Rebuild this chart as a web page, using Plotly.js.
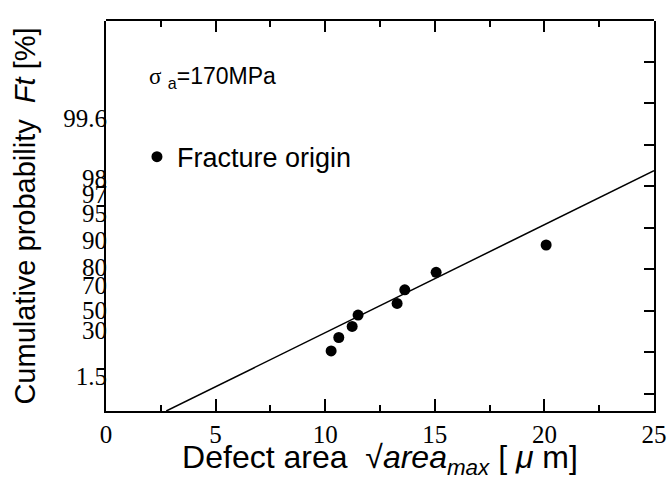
<!DOCTYPE html>
<html>
<head>
<meta charset="utf-8">
<script src="https://cdn.plot.ly/plotly-3.0.1.min.js"></script>
<style>html,body{margin:0;padding:0;background:#fff;}#chart{width:670px;height:480px;}</style>
</head>
<body>
<div id="chart"></div>
<script>
// Defect size sqrt(area_max) [um] of fracture origins
const defectSize = [10.27, 10.62, 11.23, 11.50, 13.28, 13.63, 15.06, 20.08];
// Cumulative probability Ft [%] (plotted on Gumbel paper)
const cumProbPct = [12.3, 23.2, 33.8, 45.0, 55.8, 66.7, 77.7, 88.6];
// Fitted line endpoints (x in um, y in Gumbel reduced variate)
const fitX = [2.75, 25];
const fitReduced = [-2.359, 4.113];
// Y tick probabilities and labels
const yTickProb = [1.5, 30, 50, 70, 80, 90, 95, 97, 98, 99.6];
const yTickLabels = ['1.5', '30', '50', '70', '80', '90', '95', '97', '98', '99.6'];
// Right-hand frame ticks (plain graduation of the frame)
const rightTicks = [0, 1, 2, 3, 4, 5, 6, 7, 8];
// X range
const xRange = [0, 25];

const gumbel = p => -Math.log(-Math.log(p / 100));

const dummy = (xa, ya) => ({
  x: xRange, y: [0, 0], xaxis: xa, yaxis: ya, type: 'scatter', mode: 'lines',
  line: {width: 0}, showlegend: false, hoverinfo: 'skip'
});

const traces = [
  {
    x: fitX, y: fitReduced, type: 'scatter', mode: 'lines',
    line: {color: '#000', width: 1.5}, showlegend: false, hoverinfo: 'skip'
  },
  {
    x: defectSize, y: cumProbPct.map(gumbel), type: 'scatter', mode: 'markers',
    name: 'Fracture origin',
    marker: {color: '#000', size: 11, symbol: 'circle'}
  },
  dummy('x2', 'y2'),
  dummy('x4', 'y2'),
  dummy('x3', 'y3'),
  dummy('x5', 'y3')
];

// frame tick axes (no labels)
const frameAxis = (anchor, side, dtick, len, line) => ({
  domain: [0, 1], anchor: anchor, side: side, range: xRange, dtick: dtick,
  ticks: 'inside', ticklen: len, tickwidth: 2, tickcolor: '#000',
  showticklabels: false, showgrid: false, zeroline: false,
  showline: line, linewidth: 2, linecolor: '#000'
});

const layout = {
  width: 670, height: 480,
  margin: {l: 106, r: 16, t: 21, b: 69},
  paper_bgcolor: '#fff', plot_bgcolor: 'rgba(0,0,0,0)',
  font: {family: 'Liberation Sans, Arial, sans-serif', color: '#000'},
  showlegend: true,
  legend: {
    x: 0.0565, y: 0.651, xanchor: 'left', yanchor: 'middle',
    bgcolor: 'rgba(0,0,0,0)', borderwidth: 0,
    font: {family: 'Liberation Sans, Arial, sans-serif', size: 27, color: '#000'}
  },
  xaxis: {
    range: xRange, dtick: 5, ticks: '',
    showline: true, linewidth: 2, linecolor: '#000',
    showgrid: false, zeroline: false,
    tickfont: {family: 'Liberation Serif, Times New Roman, serif', size: 25, color: '#000'},
    title: {
      text: 'Defect area  √<i>area</i><sub><i>max</i></sub> [ <i>μ</i> m]',
      font: {family: 'Liberation Sans, Arial, sans-serif', size: 32, color: '#000'},
      standoff: 9
    }
  },
  yaxis: {
    range: [-2.359, 8.145],
    tickmode: 'array', tickvals: yTickProb.map(gumbel), ticktext: yTickLabels,
    ticks: '', showline: true, linewidth: 2, linecolor: '#000', mirror: true,
    showgrid: false, zeroline: false,
    ticklabelstandoff: -8,
    tickfont: {family: 'Liberation Serif, Times New Roman, serif', size: 25, color: '#000'},
    title: {
      text: 'Cumulative probability  <i>Ft</i> [%]',
      font: {family: 'Liberation Sans, Arial, sans-serif', size: 29, color: '#000'},
      standoff: 19
    }
  },
  xaxis2: frameAxis('y2', 'top', 2.5, 6, true),
  xaxis4: frameAxis('y2', 'top', 5, 11, false),
  xaxis3: frameAxis('y3', 'bottom', 5, 12, false),
  xaxis5: frameAxis('y3', 'bottom', 2.5, 6, false),
  yaxis2: {
    domain: [0, 1], anchor: 'x2', side: 'right', range: [-0.422, 8.98],
    tickmode: 'array', tickvals: rightTicks,
    ticks: 'inside', ticklen: 10, tickwidth: 2, tickcolor: '#000',
    showticklabels: false, showgrid: false, zeroline: false, showline: false
  },
  yaxis3: {domain: [0, 1], anchor: 'x3', range: [0, 1], visible: false},
  annotations: [
    {
      xref: 'paper', yref: 'paper', x: 0.0757, y: 0.854, xanchor: 'left', yanchor: 'middle',
      showarrow: false,
      text: '<span style="font-family:Liberation Serif, Times New Roman, serif">σ</span> <sub>a</sub>=170MPa',
      font: {family: 'Liberation Sans, Arial, sans-serif', size: 23, color: '#000'}
    }
  ]
};

Plotly.newPlot('chart', traces, layout, {displayModeBar: false});
</script>
</body>
</html>
